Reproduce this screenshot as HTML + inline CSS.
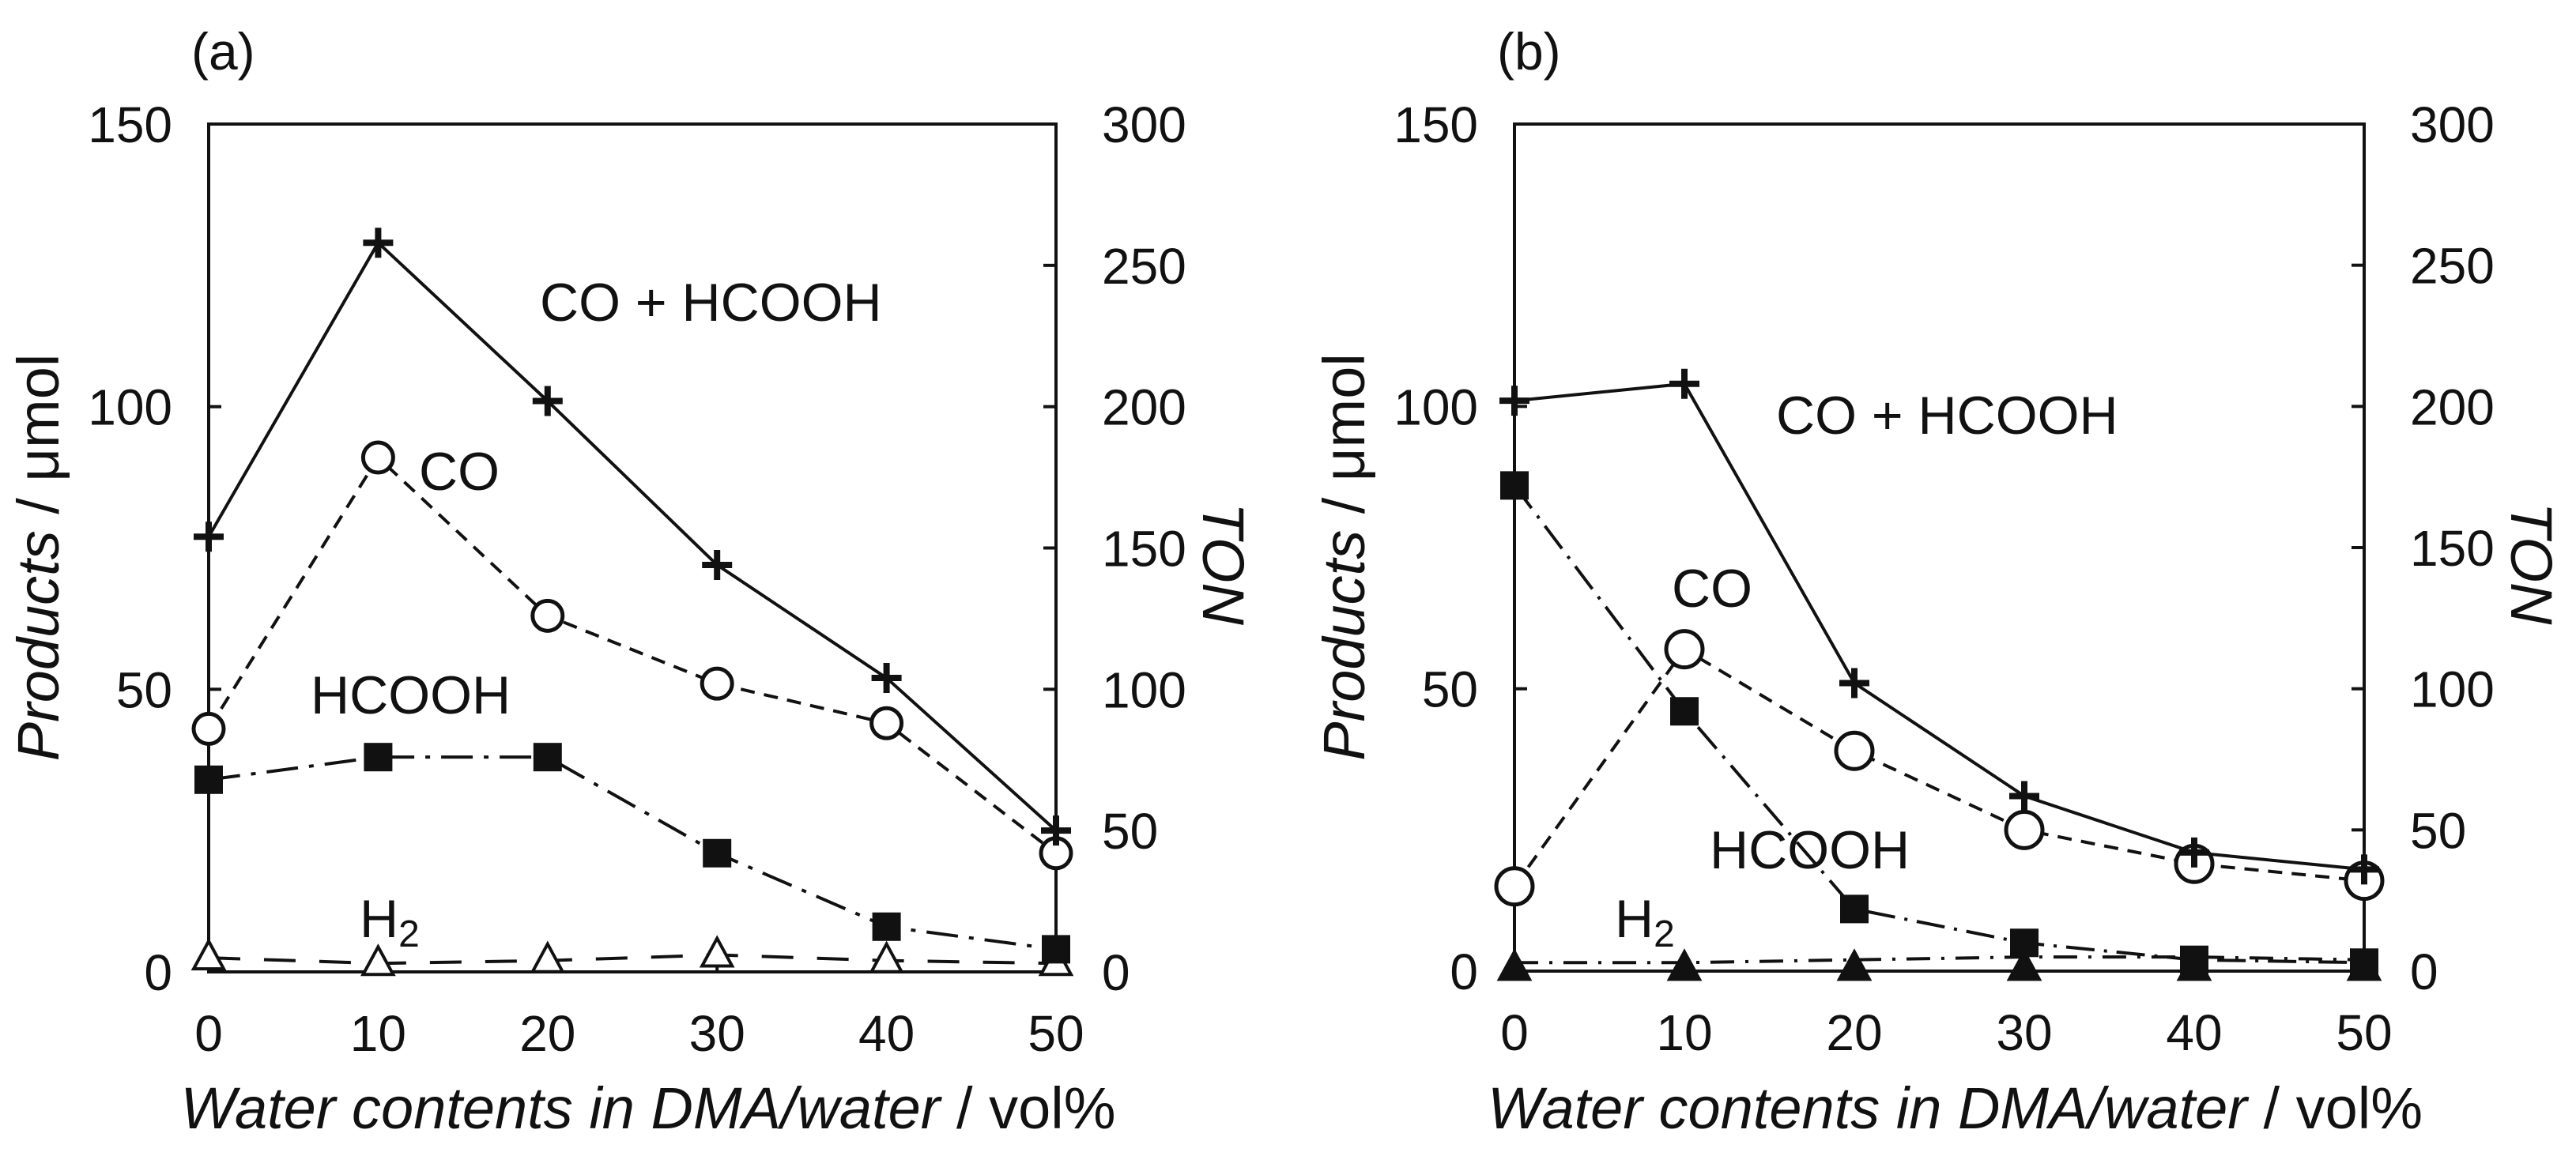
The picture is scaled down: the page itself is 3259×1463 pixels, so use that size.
<!DOCTYPE html>
<html><head><meta charset="utf-8"><style>
html,body{margin:0;padding:0;background:#fff;}
svg text{font-family:"Liberation Sans",Arial,sans-serif;fill:#111;}
</style></head><body>
<svg id="fig" width="3259" height="1458" viewBox="0 0 3259 1458" xmlns="http://www.w3.org/2000/svg"></svg>
<script>
const categories=[0,10,20,30,40,50];
const aTotal=[77,129,101,72,52,25];
const aCO=[43,91,63,51,44,21];
const aHCOOH=[34,38,38,21,8,4];
const aH2=[2.5,1.5,2,3,2,1.5];
const bTotal=[101,104,51,31,21,18];
const bCO=[15,57,39,25,19,16];
const bHCOOH=[86,46,11,5,2,1.5];
const bH2=[0.5,0.5,0.5,0.5,0.5,0.5];
const bH2line=[1.5,1.5,2,2.5,2.5,2];
const leftTicks=[0,50,100,150];
const rightTicks=[0,50,100,150,200,250,300];
const NS='http://www.w3.org/2000/svg';
const svg=document.getElementById('fig');
function mk(tag,attrs,parent){const e=document.createElementNS(NS,tag);for(const k in attrs)e.setAttribute(k,attrs[k]);(parent||svg).appendChild(e);return e;}
function panel(id,x0,x1,y0,y1,label,series,texts){
  const g=mk('g',{});
  
  
  const X=v=>x0+(v-0)/50*(x1-x0);
  const Y=v=>y1-v/150*(y1-y0);
  const YR=v=>y1-v/300*(y1-y0);
  const fr=mk('rect',{x:x0,y:y0,width:x1-x0,height:y1-y0,fill:'none',stroke:'#111','stroke-width':4},g);
  
  
  leftTicks.forEach(t=>{
    mk('line',{x1:x0,x2:x0+16,y1:Y(t),y2:Y(t),stroke:'#111','stroke-width':4},g);
    const tx=mk('text',{x:x0-46,y:Y(t)+23,'font-size':64,'text-anchor':'end'},g);tx.textContent=t;
    
    
  });
  rightTicks.forEach(t=>{
    mk('line',{x1:x1-16,x2:x1,y1:YR(t),y2:YR(t),stroke:'#111','stroke-width':4},g);
    const tx=mk('text',{x:x1+58,y:YR(t)+23,'font-size':64},g);tx.textContent=t;
    
    
  });
  categories.forEach(c=>{
    mk('line',{x1:X(c),x2:X(c),y1:y1,y2:y1-16,stroke:'#111','stroke-width':4},g);
    const tx=mk('text',{x:X(c),y:y1+100,'font-size':64,'text-anchor':'middle'},g);tx.textContent=c;
    
    
  });
  const pl=mk('text',{x:x0-22,y:88,'font-size':66},g);pl.textContent=label;
  
  
  const xt=mk('text',{x:(x0+x1)/2+20,y:1428,'font-size':74,'text-anchor':'middle'},g);
  xt.innerHTML='<tspan font-style="italic">Water contents in DMA/water </tspan> / vol%';
  
  
  const yc=(y0+y1)/2;
  const yt=mk('text',{x:0,y:0,'font-size':74,'text-anchor':'middle',transform:`translate(${x0-190},${yc+12}) rotate(-90)`},g);
  yt.innerHTML='<tspan font-style="italic">Products</tspan> / μmol';
  
  
  const rt=mk('text',{x:0,y:0,'font-size':74,'font-style':'italic','text-anchor':'middle',transform:`translate(${x1+186},${yc+20}) rotate(90)`},g);
  rt.textContent='TON';
  
  
  series.forEach(s=>{
    const lv=s.line||s.vals;
    const pts=categories.map((c,i)=>X(c)+','+Y(lv[i])).join(' ');
    const l=mk('polyline',{points:pts,fill:'none',stroke:'#111','stroke-width':4,'stroke-dasharray':s.dash||'none'},g);
    
    
    categories.forEach((c,i)=>{
      const cx=X(c),cy=Y(s.vals[i]);let m;
      if(s.m==='plus'){m=mk('path',{d:`M${cx-19},${cy}H${cx+19}M${cx},${cy-19}V${cy+19}`,stroke:'#111','stroke-width':8},g);}
      else if(s.m==='circle'){m=mk('circle',{cx:cx,cy:cy,r:s.r,fill:'#fff',stroke:'#111','stroke-width':5},g);}
      else if(s.m==='square'){m=mk('rect',{x:cx-18,y:cy-18,width:36,height:36,fill:'#111'},g);}
      else {m=mk('polygon',{points:`${cx},${cy-21} ${cx-19},${cy+14} ${cx+19},${cy+14}`,fill:s.fill,stroke:'#111','stroke-width':4},g);}
      
      
    });
  });
  texts.forEach(t=>{
    const tx=mk('text',{x:t[0],y:t[1],'font-size':68},g);tx.innerHTML=t[2];
    
    
  });
}
panel('a',264,1336,157,1230,'(a)',[
  {name:'h2',vals:aH2,m:'tri',fill:'#fff',dash:'40 30'},
  {name:'hcooh',vals:aHCOOH,m:'square',dash:'40 14 6 14'},
  {name:'co',vals:aCO,m:'circle',r:19,dash:'18 12'},
  {name:'total',vals:aTotal,m:'plus'}
],[[683,406,'CO + HCOOH'],[530,620,'CO'],[393,903,'HCOOH'],[455,1186,'H<tspan font-size="48" dy="12">2</tspan>']]);
panel('b',1916,2991,157,1229,'(b)',[
  {name:'h2',vals:bH2,line:bH2line,m:'tri',fill:'#111',dash:'30 14 4 14'},
  {name:'hcooh',vals:bHCOOH,m:'square',dash:'36 12 4 12'},
  {name:'co',vals:bCO,m:'circle',r:23,dash:'18 12'},
  {name:'total',vals:bTotal,m:'plus'}
],[[2247,549,'CO + HCOOH'],[2115,768,'CO'],[2163,1099,'HCOOH'],[2043,1186,'H<tspan font-size="48" dy="12">2</tspan>']]);
</script>
</body></html>
